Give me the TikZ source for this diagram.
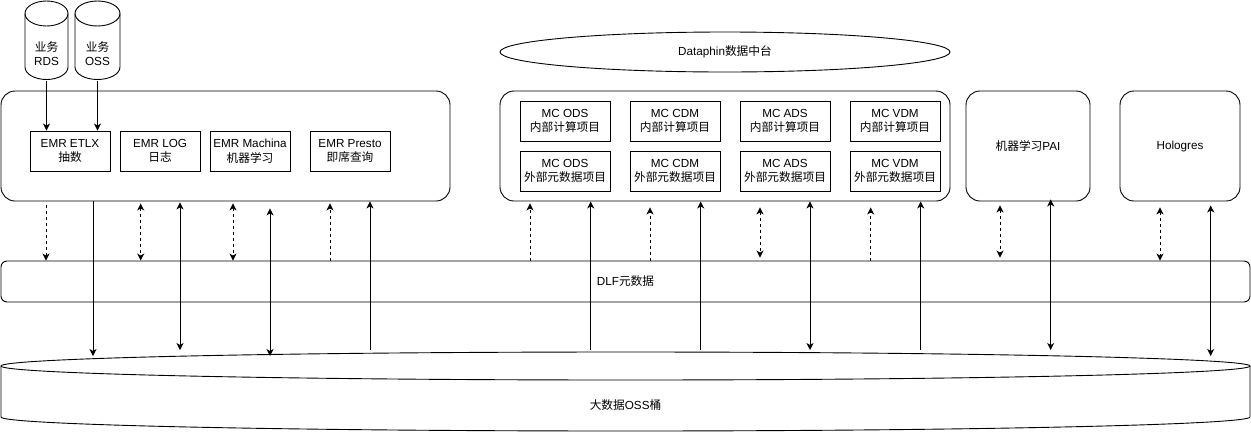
\documentclass[tikz,border=0pt]{standalone}
\usepackage{fontspec}
\setmainfont{Liberation Sans}
\newfontfamily\cjk{Noto Sans CJK SC}
\newcommand\zhtext[1]{{\cjk #1}}
\usetikzlibrary{arrows.meta,shapes.geometric}
\begin{document}
\begin{tikzpicture}[x=1pt,y=-1pt,line width=0.9pt,
  font=\fontsize{11.7}{14.5}\selectfont,
  tip/.tip={Stealth[length=7pt,width=7pt,inset=2pt]},
  inbox/.style={draw,minimum width=80pt,minimum height=40pt,align=center,inner sep=0pt},
  mcbox/.style={draw,minimum width=90pt,minimum height=40pt,align=center,inner sep=0pt},
  group/.style={draw,rounded corners=14pt,inner sep=0pt,align=center},
  plain/.style={inner sep=0pt,align=center},
  dsh/.style={dash pattern=on 3pt off 3pt},
]
\useasboundingbox (0,0) rectangle (1251,432);

% ---------- small source cylinders ----------
\foreach \cx/\rx in {46.5/21.5, 97.5/22.5}{
  \draw[fill=white] (\cx-\rx,13.5) -- (\cx-\rx,67) arc[start angle=180,end angle=0,x radius=\rx,y radius=12.5]
      -- (\cx+\rx,13.5);
  \draw (\cx,13.5) ellipse[x radius=\rx,y radius=12.5];
}
\node[plain,minimum width=43pt,minimum height=54pt] (rds) at (46.5,53.5) {\zhtext{业务}\\RDS};
\node[plain,minimum width=45pt,minimum height=54pt] (oss) at (97.5,53.5) {\zhtext{业务}\\OSS};

% ---------- EMR group ----------
\node[group,minimum width=449pt,minimum height=110pt] (emr) at (225.5,146) {};
\node[inbox] (etlx) at (70,151) {EMR ETLX\\\zhtext{抽数}};
\node[inbox] (log) at (160,151) {EMR LOG\\\zhtext{日志}};
\node[inbox] (mach) at (250,151) {EMR Machina\\\zhtext{机器学习}};
\node[inbox] (presto) at (350,151) {EMR Presto\\\zhtext{即席查询}};

\draw[-tip] (rds.south) -- (rds.south |- etlx.north);
\draw[-tip] (oss.south) -- (oss.south |- etlx.north);

% ---------- Dataphin ----------
\node[draw,ellipse,minimum width=450pt,minimum height=40pt,inner sep=0pt] (dp) at (725,52) {Dataphin\zhtext{数据中台}};

% ---------- MC group ----------
\node[group,minimum width=450pt,minimum height=110pt] (mc) at (725,146) {};
\node[mcbox] (m11) at (565,121) {MC ODS\\\zhtext{内部计算项目}};
\node[mcbox] (m12) at (675,121) {MC CDM\\\zhtext{内部计算项目}};
\node[mcbox] (m13) at (785,121) {MC ADS\\\zhtext{内部计算项目}};
\node[mcbox] (m14) at (895,121) {MC VDM\\\zhtext{内部计算项目}};
\node[mcbox] (m21) at (565,171) {MC ODS\\\zhtext{外部元数据项目}};
\node[mcbox] (m22) at (675,171) {MC CDM\\\zhtext{外部元数据项目}};
\node[mcbox] (m23) at (785,171) {MC ADS\\\zhtext{外部元数据项目}};
\node[mcbox] (m24) at (895,171) {MC VDM\\\zhtext{外部元数据项目}};

% ---------- PAI / Hologres ----------
\node[group,minimum width=124pt,minimum height=110pt] (pai) at (1028,146) {\zhtext{机器学习}PAI};
\node[group,minimum width=120pt,minimum height=110pt] (holo) at (1180,146) {Hologres};

% ---------- DLF ----------
\node[draw,rounded corners=6pt,minimum width=1249pt,minimum height=41pt,inner sep=0pt] (dlf) at (625.5,281.5) {DLF\zhtext{元数据}};

% ---------- big OSS cylinder ----------
\draw[fill=white] (1,366) -- (1,417) arc[start angle=180,end angle=0,x radius=624.5,y radius=14] -- (1250,366);
\draw (625.5,366) ellipse[x radius=624.5,y radius=14];
\node[plain,minimum width=1249pt,minimum height=51pt] (lake) at (625.5,405.5) {\zhtext{大数据}OSS\zhtext{桶}};
\coordinate (laketop) at (0,350);
\coordinate (laketip) at (0,356);

% ---------- connectors ----------
\foreach \n/\x in {a/46,b/93,c/140.7,d/180,e/233,f/270,g/330,h/370,
                   i/530,j/590.7,k/650,l/700.7,m/760,n/810,o/870.7,p/920.7,
                   q/1000,r/1050.7,s/1160,t/1210.7}
  \coordinate (\n) at (\x,0);

% EMR
\draw[dsh,-tip,shorten <=4pt] (emr.south -| a) -- (dlf.north -| a);
\draw[-tip] (emr.south -| b) -- (laketip -| b);
\draw[dsh,tip-tip,shorten <=2pt] (emr.south -| c) -- (dlf.north -| c);
\draw[tip-tip,shorten <=1pt] (emr.south -| d) -- (laketop -| d);
\draw[dsh,tip-tip,shorten <=2pt] (emr.south -| e) -- (dlf.north -| e);
\draw[tip-tip,shorten <=7pt] (emr.south -| f) -- (laketip -| f);
\draw[dsh,-tip,shorten >=2pt] (dlf.north -| g) -- (emr.south -| g);
\draw[-tip] (laketop -| h) -- (emr.south -| h);
% MC
\draw[dsh,-tip,shorten >=2pt] (dlf.north -| i) -- (mc.south -| i);
\draw[-tip] (laketop -| j) -- (mc.south -| j);
\draw[dsh,-tip,shorten >=6pt] (dlf.north -| k) -- (mc.south -| k);
\draw[-tip] (laketop -| l) -- (mc.south -| l);
\draw[dsh,tip-tip,shorten <=6pt,shorten >=3pt] (mc.south -| m) -- (dlf.north -| m);
\draw[tip-tip] (mc.south -| n) -- (laketop -| n);
\draw[dsh,-tip,shorten >=6pt] (dlf.north -| o) -- (mc.south -| o);
\draw[-tip] (laketop -| p) -- (mc.south -| p);
% PAI
\draw[dsh,tip-tip,shorten <=4pt,shorten >=3pt] (pai.south -| q) -- (dlf.north -| q);
\draw[tip-tip,shorten <=-2pt] (pai.south -| r) -- (laketop -| r);
% Hologres
\draw[dsh,tip-tip,shorten <=6pt] (holo.south -| s) -- (dlf.north -| s);
\draw[tip-tip,shorten <=4pt] (holo.south -| t) -- (laketip -| t);
\end{tikzpicture}
\end{document}
